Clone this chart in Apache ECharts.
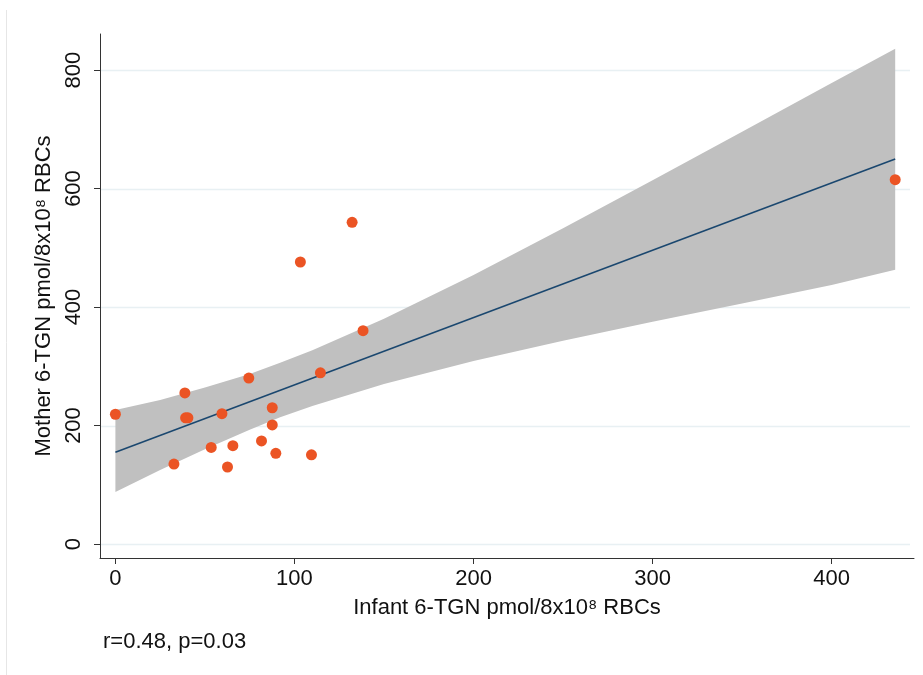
<!DOCTYPE html>
<html>
<head>
<meta charset="utf-8">
<script src="https://cdn.jsdelivr.net/npm/echarts@6/dist/echarts.min.js"></script>
<style>
html,body{margin:0;padding:0;background:#fff;}
#chart{width:923px;height:675px;}
</style>
</head>
<body>
<div id="chart"></div>
<script>
// Scatter points (infant, mother)
var infantVals = [0, 32.7, 38.8, 39.2, 40.5, 53.5, 59.5, 62.6, 65.6, 74.5, 81.6, 87.6, 87.6, 89.6, 109.5, 114.5, 103.3, 132.2, 138.3, 435.5];
var motherVals = [219, 135, 255, 213, 213, 163, 220, 130, 166, 280, 174, 230, 201, 153, 150.5, 289, 476, 543, 360, 615];

// Fitted line end points
var fitX = [0, 435.5];
var fitY = [155, 650];

// Confidence band
var bandX = [0, 25, 50, 75, 92, 110, 150, 200, 250, 300, 350, 400, 435.5];
var bandUpper = [226, 243, 264, 287, 306, 327, 380, 454, 533, 614, 696, 778, 836];
var bandLower = [88, 125, 160, 193, 214, 233, 270, 309, 343, 375, 406, 437, 463];

// Tick labels
var xTicks = [0, 100, 200, 300, 400];
var yTicks = [0, 200, 400, 600, 800];

var FONT = "'Liberation Sans', Arial, Helvetica, sans-serif";

var points = infantVals.map(function (x, i) { return [x, motherVals[i]]; });
var fitData = fitX.map(function (x, i) { return [x, fitY[i]]; });

var chart = echarts.init(document.getElementById('chart'), null, {renderer: 'canvas'});

chart.setOption({
  animation: false,
  backgroundColor: '#ffffff',
  grid: {left: 100, right: 9, top: 34, bottom: 117, containLabel: false},
  xAxis: {
    type: 'value',
    min: -8.6, max: 446,
    name: 'Infant 6-TGN pmol/8x10\u2078 RBCs',
    nameLocation: 'middle',
    nameGap: 39,
    nameTextStyle: {fontFamily: FONT, fontSize: 22, color: '#111'},
    axisLine: {show: true, onZero: false, lineStyle: {color: '#333', width: 1}},
    axisTick: {show: true, length: 6, customValues: xTicks, lineStyle: {color: '#333'}},
    axisLabel: {customValues: xTicks, fontFamily: FONT, fontSize: 22, color: '#111', margin: 10},
    splitLine: {show: false}
  },
  yAxis: {
    type: 'value',
    min: -23.6, max: 860.8,
    name: 'Mother 6-TGN pmol/8x10\u2078 RBCs',
    nameLocation: 'middle',
    nameRotate: 90,
    nameGap: 30,
    nameTextStyle: {fontFamily: FONT, fontSize: 22, color: '#111'},
    axisLine: {show: true, onZero: false, lineStyle: {color: '#333', width: 1}},
    axisTick: {show: true, length: 6, customValues: yTicks, lineStyle: {color: '#333'}},
    axisLabel: {customValues: yTicks, rotate: 90, fontFamily: FONT, fontSize: 22, color: '#111', margin: 15},
    splitLine: {show: false}
  },
  graphic: [
    {type: 'line', shape: {x1: 6.5, y1: 10, x2: 6.5, y2: 675}, style: {stroke: '#e6e6e6', lineWidth: 1}},
    {type: 'text', left: 103, top: 631, style: {text: 'r=0.48, p=0.03', font: '22px ' + FONT, fill: '#111'}}
  ],
  series: [
    {
      type: 'custom',
      z: 1,
      silent: true,
      data: yTicks,
      renderItem: function (params, api) {
        var v = api.value(0);
        var cs = params.coordSys;
        var y = Math.round(api.coord([0, v])[1]) + 0.5;
        return {type: 'line', shape: {x1: cs.x + 1, y1: y, x2: cs.x + cs.width - 4, y2: y},
                style: {stroke: '#e8f0f3', lineWidth: 1.5}};
      }
    },
    {
      type: 'custom',
      z: 2,
      silent: true,
      data: [0],
      renderItem: function (params, api) {
        var pts = [];
        for (var i = 0; i < bandX.length; i++) pts.push(api.coord([bandX[i], bandUpper[i]]));
        for (var j = bandX.length - 1; j >= 0; j--) pts.push(api.coord([bandX[j], bandLower[j]]));
        return {type: 'polygon', shape: {points: pts}, style: {fill: '#c0c0c0'}};
      }
    },
    {
      type: 'line',
      z: 3,
      data: fitData,
      symbol: 'none',
      lineStyle: {color: '#1a476f', width: 1.6},
      silent: true
    },
    {
      type: 'scatter',
      z: 4,
      data: points,
      symbol: 'circle',
      symbolSize: 11,
      itemStyle: {color: '#eb5424', opacity: 1}
    }
  ]
});
</script>
</body>
</html>
